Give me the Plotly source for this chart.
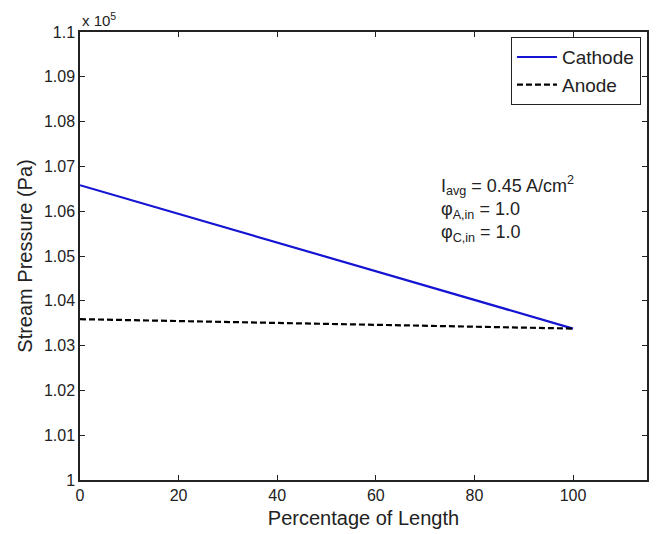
import plotly.graph_objects as go

# Stream pressure along the channel (values in units of 1e5 Pa)
length_pct = [0, 25, 50, 75, 100]
cathode_p = [1.0658, 1.0578, 1.0498, 1.0418, 1.0338]
anode_p = [1.0359, 1.0354, 1.0348, 1.0343, 1.0338]

x_ticks = [0, 20, 40, 60, 80, 100]
y_ticks = [1.0, 1.01, 1.02, 1.03, 1.04, 1.05, 1.06, 1.07, 1.08, 1.09, 1.1]
y_tick_text = ["1", "1.01", "1.02", "1.03", "1.04", "1.05", "1.06", "1.07", "1.08", "1.09", "1.1"]

font = "Liberation Sans, Arial, sans-serif"
ink = "#222"

fig = go.Figure()
fig.add_trace(go.Scatter(x=length_pct, y=cathode_p, mode="lines", name="Cathode",
                         line=dict(color="#1414d2", width=2.2)))
fig.add_trace(go.Scatter(x=length_pct, y=anode_p, mode="lines", name="Anode",
                         line=dict(color="black", width=2.2, dash="6px,3px")))

axis_common = dict(showline=True, linecolor=ink, linewidth=1.5, mirror="ticks",
                   ticks="inside", ticklen=5, tickcolor=ink, showgrid=False, zeroline=False,
                   tickfont=dict(family=font, size=16, color=ink))

fig.update_xaxes(range=[0, 115], tickvals=x_ticks,
                 title=dict(text="Percentage of Length", font=dict(family=font, size=20, color=ink),
                            standoff=8),
                 **axis_common)
fig.update_yaxes(range=[1.0, 1.1], tickvals=y_ticks, ticktext=y_tick_text,
                 title=dict(text="Stream Pressure (Pa)", font=dict(family=font, size=20, color=ink),
                            standoff=6),
                 **axis_common)

fig.add_annotation(x=0, y=1.0, xref="paper", yref="paper", xanchor="left", yanchor="bottom",
                   text="x 10<sup>5</sup>", showarrow=False, yshift=1,
                   font=dict(family=font, size=15, color=ink))

fig.add_annotation(x=0.634, y=0.69, xref="paper", yref="paper", xanchor="left", yanchor="top",
                   align="left", showarrow=False,
                   text="I<sub>avg</sub> = 0.45 A/cm<sup>2</sup><br>φ<sub>A,in</sub> = 1.0<br>φ<sub>C,in</sub> = 1.0",
                   font=dict(family=font, size=18, color=ink))

fig.update_layout(
    width=657, height=534,
    margin=dict(l=80, r=8, t=32, b=53),
    paper_bgcolor="white", plot_bgcolor="white",
    legend=dict(x=0.989, y=0.989, xanchor="right", yanchor="top",
                bordercolor=ink, borderwidth=1.2, bgcolor="white",
                font=dict(family=font, size=19, color=ink),
                tracegroupgap=0, itemwidth=40),
    showlegend=True,
)

fig.write_html("out.html")
